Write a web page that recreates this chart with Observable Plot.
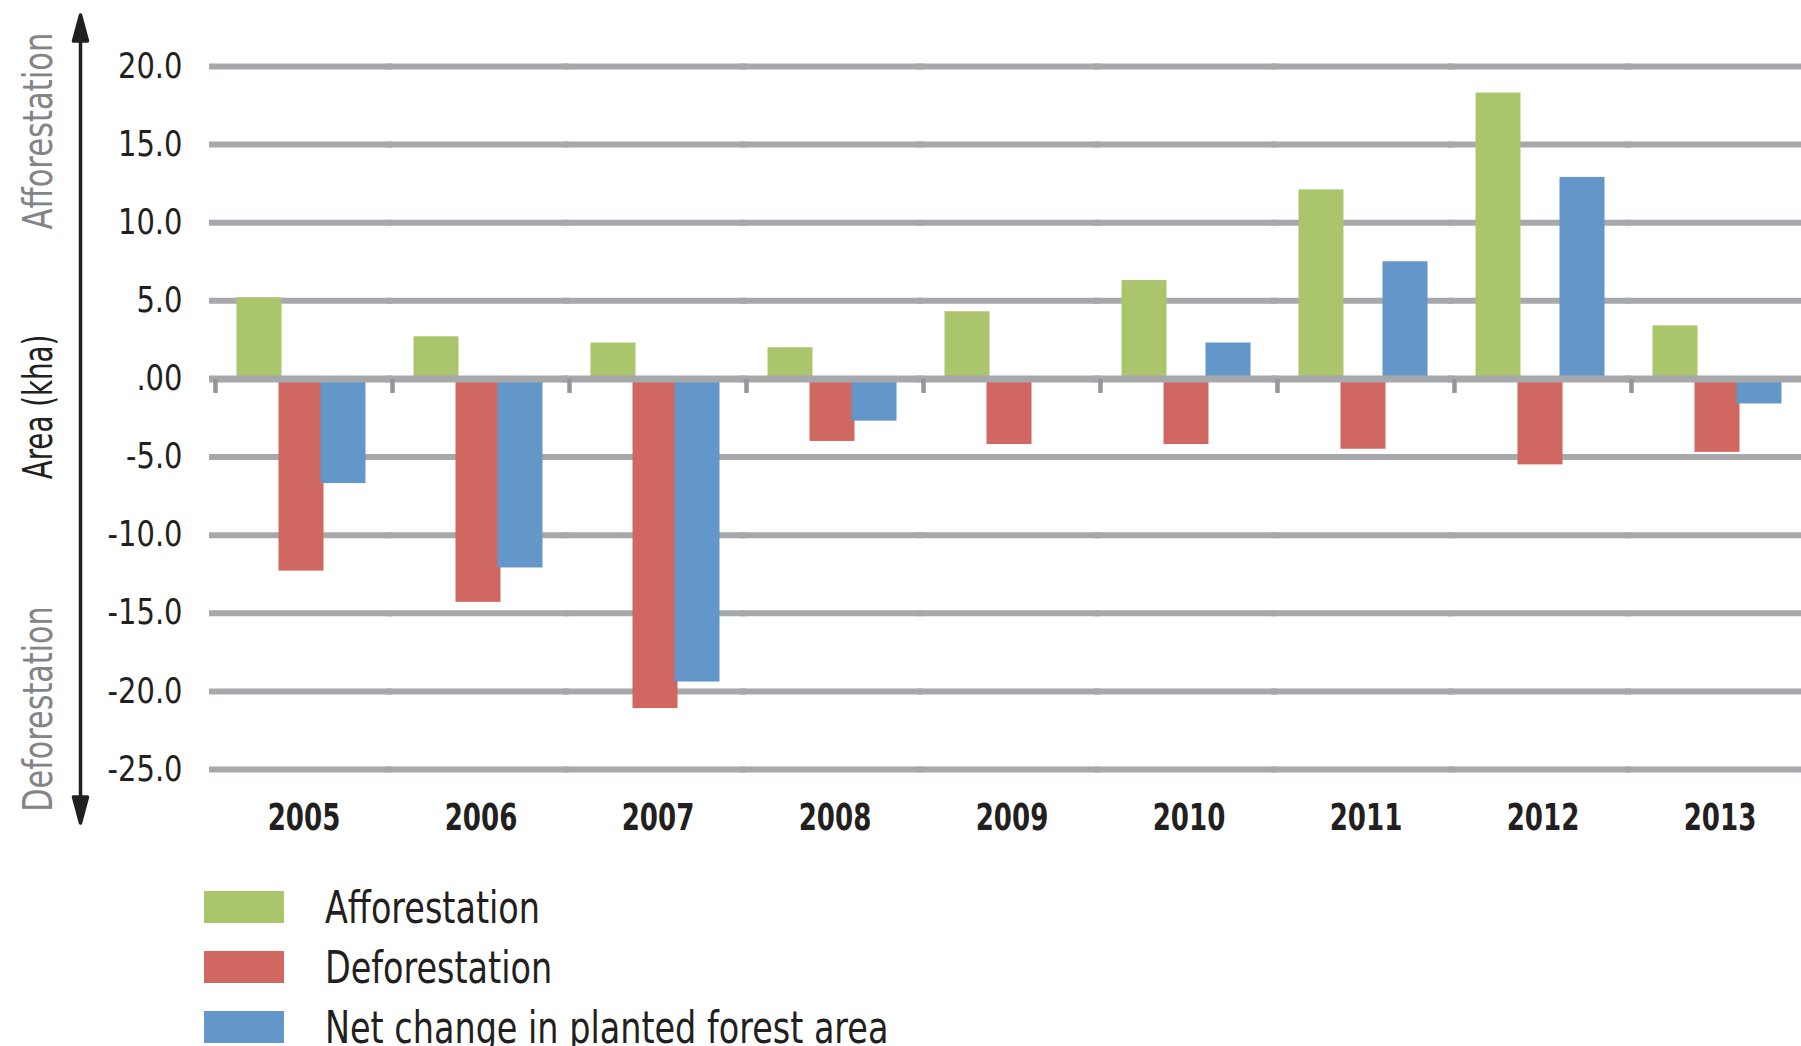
<!DOCTYPE html>
<html>
<head>
<meta charset="utf-8">
<script src="https://cdn.jsdelivr.net/npm/d3@7"></script>
<script src="https://cdn.jsdelivr.net/npm/@observablehq/plot@0.6"></script>
<style>
html, body { margin: 0; padding: 0; background: #fff; overflow: hidden; width: 1801px; height: 1046px; }
#chart svg { display: block; }
#chart svg text { font-stretch: condensed; }
.legend { margin-left: 204px; margin-top: 17px; font-family: "Liberation Sans Narrow", "DejaVu Sans Condensed", "DejaVu Sans", sans-serif; font-stretch: condensed; font-size: 44px; color: #231f20; }
.row { display: flex; align-items: center; height: 60px; }
.sw { width: 80px; height: 32px; margin-right: 41px; flex: none; }
.lbl { display: inline-block; white-space: nowrap; transform: scaleX(0.845); transform-origin: left center; }
</style>
</head>
<body>
<div id="chart"></div>
<div class="legend" id="legend"></div>
<script>
const years = ["2005", "2006", "2007", "2008", "2009", "2010", "2011", "2012", "2013"];
const afforestation = [5.2, 2.7, 2.3, 2.0, 4.3, 6.3, 12.1, 18.3, 3.4];
const deforestation = [-12.3, -14.3, -21.1, -4.0, -4.2, -4.2, -4.5, -5.5, -4.7];
const netChange = [-6.7, -12.1, -19.4, -2.7, 0, 2.3, 7.5, 12.9, -1.6];
const seriesNames = ["Afforestation", "Deforestation", "Net change in planted forest area"];
const seriesColors = ["#abc56c", "#d06760", "#6396c9"];
const yTicks = [20, 15, 10, 5, 0, -5, -10, -15, -20, -25];
const yTickLabels = ["20.0", "15.0", "10.0", "5.0", ".00", "-5.0", "-10.0", "-15.0", "-20.0", "-25.0"];
const sideLabels = ["Afforestation", "Area (kha)", "Deforestation"];

const seriesValues = [afforestation, deforestation, netChange];
const rows = years.flatMap((year, i) =>
  seriesNames.map((series, s) => ({year, series, value: seriesValues[s][i]}))
);

const FONT = '"Liberation Sans Narrow", "DejaVu Sans Condensed", "DejaVu Sans", sans-serif';

const tickShape = {
  draw(ctx, l) { ctx.moveTo(0, 0); ctx.lineTo(0, -l); }
};
const arrowShape = {
  draw(ctx, l) {
    const h = 26, w = 7;
    ctx.moveTo(0, -h + 2); ctx.lineTo(0, -l + h - 2);
    ctx.moveTo(0, -l); ctx.lineTo(-w, -l + h); ctx.lineTo(w, -l + h); ctx.closePath();
    ctx.moveTo(0, 0); ctx.lineTo(-w, -h); ctx.lineTo(w, -h); ctx.closePath();
  }
};

const chart = Plot.plot({
  width: 1801,
  height: 860,
  marginTop: 66,
  marginBottom: 91,
  marginLeft: 209,
  marginRight: 0,
  style: {background: "#fff", fontFamily: FONT, overflow: "visible"},
  fx: {domain: years, range: [215, 1808], padding: 0},
  x: {domain: seriesNames, paddingInner: 0, paddingOuter: 0.607, align: 0.46, axis: null},
  y: {domain: [-25, 20]},
  color: {domain: seriesNames, range: seriesColors},
  marks: [
    Plot.ruleY(yTicks.filter(d => d !== 0), {stroke: "#a7a8ab", strokeWidth: 6, insetLeft: -6}),
    Plot.barY(rows, {fx: "year", x: "series", y: "value", fill: "series", insetLeft: -1.5, insetRight: -1.5}),
    Plot.ruleY([0], {stroke: "#a7a8ab", strokeWidth: 7, insetLeft: -6}),
    Plot.vector(years, {fx: d => d, y: () => 0, frameAnchor: "left", length: 14, rotate: 180, anchor: "start",
      shape: tickShape, stroke: "#949599", strokeWidth: 4.5, strokeLinecap: "butt"}),
    Plot.axisY({ticks: yTicks, tickFormat: d => yTickLabels[yTicks.indexOf(d)], tickSize: 0, tickPadding: 33,
      fontSize: 35, fill: "#231f20", label: null}),
    Plot.axisFx({anchor: "bottom", tickSize: 0, tickPadding: 34, fontSize: 37, fontWeight: "bold",
      fill: "#231f20", label: null}),
    Plot.vector([0], {frameAnchor: "left", dx: -135, dy: 1, length: 808, rotate: 0, anchor: "middle",
      shape: arrowShape, stroke: "#231f20", fill: "#231f20", strokeWidth: 3.5, facet: "super"}),
    Plot.text([sideLabels[0]], {text: d => d, frameAnchor: "left", textAnchor: "middle", rotate: -90, dx: -177, dy: -287,
      fontSize: 41, fill: "#838487", facet: "super"}),
    Plot.text([sideLabels[1]], {text: d => d, frameAnchor: "left", textAnchor: "middle", rotate: -90, dx: -177, dy: -11,
      fontSize: 41, fill: "#231f20", facet: "super"}),
    Plot.text([sideLabels[2]], {text: d => d, frameAnchor: "left", textAnchor: "middle", rotate: -90, dx: -177, dy: 291,
      fontSize: 41, fill: "#838487", facet: "super"})
  ]
});
document.getElementById("chart").append(chart);

// narrow the glyphs to mimic the condensed typeface of the original
const sideSqueeze = [0.83, 0.75, 0.82];
chart.querySelectorAll("text").forEach(t => {
  const s = t.textContent;
  let k = 1;
  if (yTickLabels.includes(s)) k = 0.92;
  else if (years.includes(s)) k = 0.785;
  else if (sideLabels.includes(s)) k = sideSqueeze[sideLabels.indexOf(s)];
  if (k !== 1) {
    const L = t.getComputedTextLength();
    t.setAttribute("textLength", (L * k).toFixed(1));
    t.setAttribute("lengthAdjust", "spacingAndGlyphs");
  }
});

const legend = document.getElementById("legend");
seriesNames.forEach((name, i) => {
  const row = document.createElement("div");
  row.className = "row";
  const sw = document.createElement("div");
  sw.className = "sw";
  sw.style.background = seriesColors[i];
  const label = document.createElement("span");
  label.className = "lbl";
  label.textContent = name;
  row.append(sw, label);
  legend.append(row);
});
</script>
</body>
</html>
